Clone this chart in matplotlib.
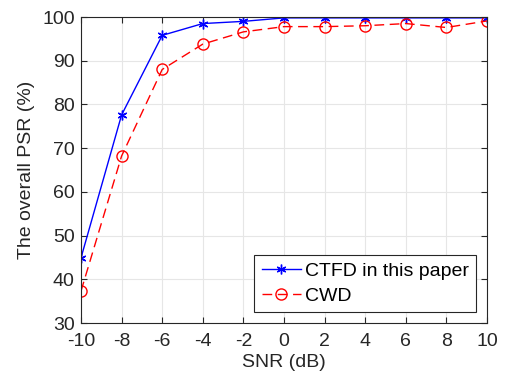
import matplotlib
matplotlib.use("Agg")
import matplotlib.pyplot as plt

snr = [-10, -8, -6, -4, -2, 0, 2, 4, 6, 8, 10]
ctfd = [44.9, 77.6, 95.8, 98.5, 99.0, 99.8, 99.8, 99.8, 99.8, 99.8, 99.8]
cwd = [37.3, 68.2, 88.0, 93.8, 96.6, 97.8, 97.8, 98.0, 98.5, 97.6, 99.1]

plt.rcParams['font.family'] = ['Liberation Sans', 'DejaVu Sans']

fig = plt.figure(figsize=(5.05, 3.84), dpi=100)
ax = fig.add_axes([81 / 505, 1 - 323 / 384, (487 - 81) / 505, (323 - 17) / 384])

ax.plot(snr, ctfd, color='#0000ff', lw=1.0, marker=(6, 2, 0), ms=7, mew=1.0,
        label='CTFD in this paper')
ax.plot(snr, cwd, color='#ff0000', lw=1.0, ls=(0, (7, 4)), marker='o', ms=8,
        mfc='none', mew=1.0, label='CWD')

ax.set_xlim(-10, 10)
ax.set_ylim(30, 100)
ax.set_xticks(snr)
ax.set_xticklabels([str(v) for v in snr])
ax.set_yticks(range(30, 101, 10))
ax.grid(True, color='#e6e6e6', lw=0.8)
ax.set_axisbelow(True)
ax.tick_params(direction='in', length=4, top=True, right=True, labelsize=14,
               colors='#262626', width=0.8)
ax.tick_params(axis='x', pad=7)
ax.tick_params(axis='y', pad=4.5)
for s in ax.spines.values():
    s.set_color('#262626')
    s.set_linewidth(0.8)
ax.set_xlabel('SNR (dB)', fontsize=14, color='#262626', labelpad=3)
ax.set_ylabel('The overall PSR (%)', fontsize=14, color='#262626', labelpad=5)

leg = ax.legend(loc='lower right', fontsize=14, frameon=True, fancybox=False,
                edgecolor='#262626', framealpha=1, borderpad=0.4,
                labelspacing=0.35, handlelength=2.0, handletextpad=0.2,
                borderaxespad=0.55)
leg.get_frame().set_linewidth(0.8)

fig.savefig('out.png', dpi=100)
